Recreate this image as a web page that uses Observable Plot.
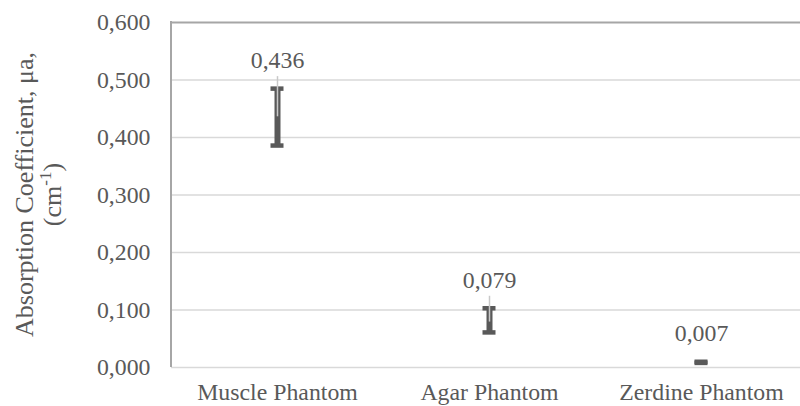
<!DOCTYPE html>
<html>
<head>
<meta charset="utf-8">
<script src="https://cdn.jsdelivr.net/npm/d3@7"></script>
<script src="https://cdn.jsdelivr.net/npm/@observablehq/plot@0.6"></script>
<style>
  html, body { margin: 0; padding: 0; background: #fff; }
  #chart svg { display: block; }
</style>
</head>
<body>
<div id="chart"></div>
<script>
const categories = ["Muscle Phantom", "Agar Phantom", "Zerdine Phantom"];
const values = [0.436, 0.079, 0.007];
const lows = [0.386, 0.061, 0.008];
const highs = [0.485, 0.103, 0.010];
const yTicks = [0, 0.1, 0.2, 0.3, 0.4, 0.5, 0.6];

const data = categories.map((c, i) => ({cat: c, value: values[i], low: lows[i], high: highs[i]}));
const fmt = v => d3.format(".3f")(v).replace(".", ",");

const W = 800, H = 406;
const FONT = "'Liberation Serif', 'Times New Roman', serif";
const TXT = "#595959";
const xRange = [171, 807];
const bw = (xRange[1] - xRange[0]) / categories.length;
const capW = 13;

const plot = Plot.plot({
  width: W,
  height: H,
  marginLeft: 171,
  marginRight: 0,
  marginTop: 22,
  marginBottom: 39,
  style: {fontFamily: FONT, fontSize: "23.8px", color: TXT, background: "#fff", overflow: "visible"},
  x: {domain: categories, range: xRange, padding: 0, label: null, tickSize: 0, tickPadding: 16},
  y: {domain: [0, 0.6], ticks: yTicks, tickFormat: fmt, label: null, tickSize: 0, tickPadding: 21},
  marks: [
    Plot.ruleY(yTicks.filter(t => t < 0.6), {stroke: "#d9d9d9", strokeWidth: 1.5}),
    Plot.ruleY([0.6], {stroke: "#a6a6a6", strokeWidth: 2}),
    Plot.ruleX(data, {x: "cat", y1: "low", y2: "high", stroke: "#595959", strokeWidth: 6}),
    Plot.tickY(data, {x: "cat", y: "high", stroke: "#595959", strokeWidth: 4.5, insetLeft: (bw - capW) / 2, insetRight: (bw - capW) / 2}),
    Plot.tickY(data, {x: "cat", y: "low", stroke: "#595959", strokeWidth: 4.5, insetLeft: (bw - capW) / 2, insetRight: (bw - capW) / 2}),
    Plot.ruleX(data.filter(d => d.high - d.low > 0.01), {x: "cat", y1: "high", y2: "value", stroke: "#c8c8c8", strokeWidth: 1.5, insetTop: -12}),
    Plot.text(data, {x: "cat", y: "high", text: d => fmt(d.value), dy: -28, fill: TXT, fontSize: 23.8, lineAnchor: "middle"})
  ]
});

// Left border of the plot area, positioned from the scales
const xs = plot.scale("x").range, ys = plot.scale("y").range;
const svg = d3.select(plot);
svg.append("line")
  .attr("x1", xs[0]).attr("x2", xs[0])
  .attr("y1", ys[0]).attr("y2", ys[1] - 1)
  .attr("stroke", "#a6a6a6").attr("stroke-width", 2);

// Y-axis title with superscript
const cy = (ys[0] + ys[1]) / 2;
const title = svg.append("text")
  .attr("transform", `translate(33,${cy}) rotate(-90)`)
  .attr("text-anchor", "middle")
  .attr("fill", TXT)
  .style("font-family", FONT)
  .style("font-size", "26px");
title.append("tspan").attr("x", 0).attr("dy", 0).text("Absorption Coefficient, μa,");
const l2 = title.append("tspan").attr("x", 0).attr("dy", 28);
l2.append("tspan").text("(cm");
l2.append("tspan").attr("dy", -10).style("font-size", "17px").text("-1");
l2.append("tspan").attr("dy", 10).text(")");

document.getElementById("chart").appendChild(plot);
</script>
</body>
</html>
